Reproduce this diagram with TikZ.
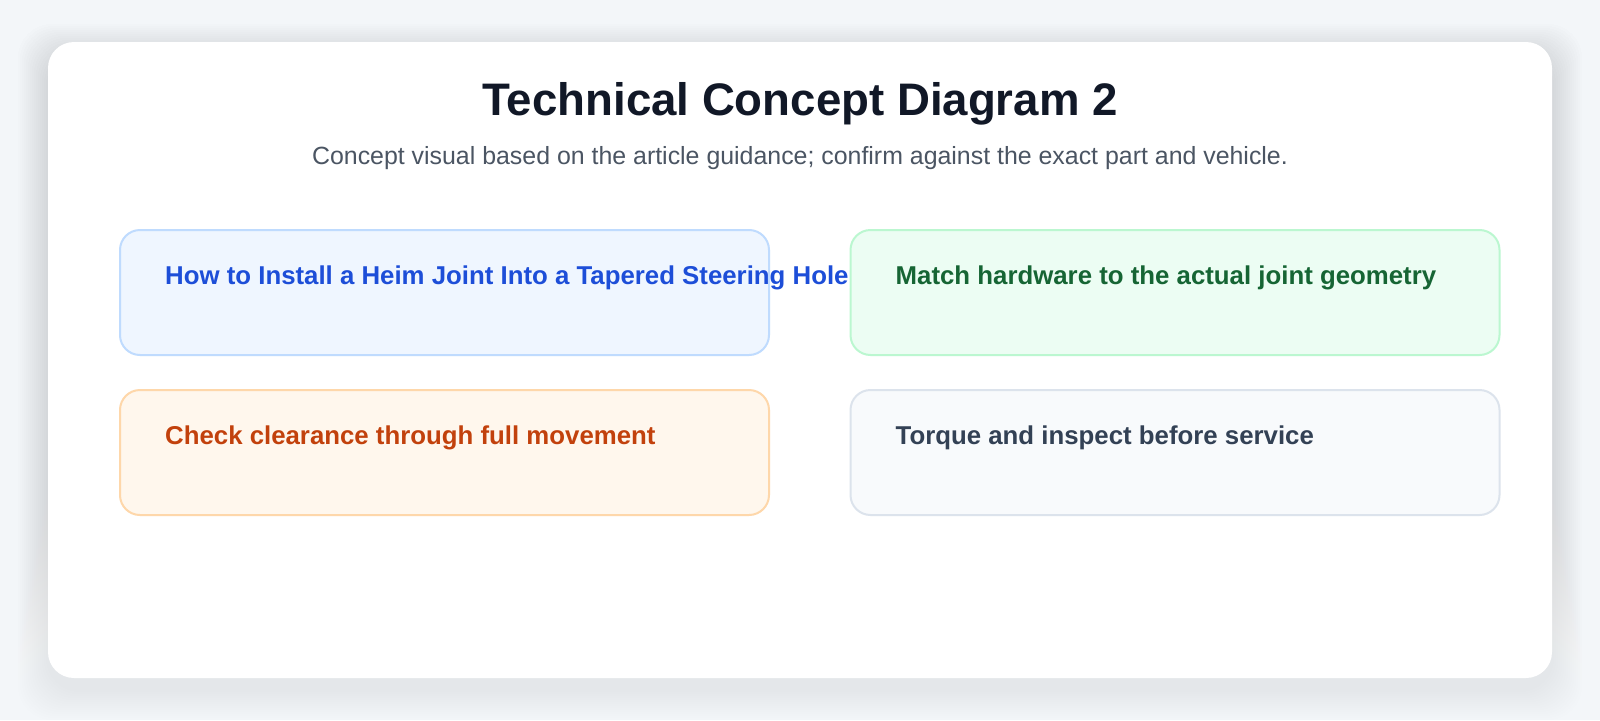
\documentclass[tikz,border=0pt]{standalone}
\usepackage{fontspec}
\setmainfont{Liberation Sans}
\usetikzlibrary{positioning}

\definecolor{pagebg}{HTML}{F3F6F9}
\definecolor{shade}{HTML}{64748B}
\definecolor{titlec}{HTML}{111827}
\definecolor{subc}{HTML}{4B5563}
\definecolor{fill1}{HTML}{EFF6FF}
\definecolor{line1}{HTML}{BFDBFE}
\definecolor{ink1}{HTML}{1D4ED8}
\definecolor{fill2}{HTML}{ECFDF3}
\definecolor{line2}{HTML}{BBF7D0}
\definecolor{ink2}{HTML}{166534}
\definecolor{fill3}{HTML}{FFF7ED}
\definecolor{line3}{HTML}{FED7AA}
\definecolor{ink3}{HTML}{C2410C}
\definecolor{fill4}{HTML}{F8FAFC}
\definecolor{line4}{HTML}{DCE3EC}
\definecolor{ink4}{HTML}{334155}

\tikzset{
  every box/.style={draw, line width=2pt, rounded corners=20pt,
    minimum width=649pt, minimum height=125pt, inner sep=0pt},
  box 1/.style={fill=fill1, draw=line1},
  box 2/.style={fill=fill2, draw=line2},
  box 3/.style={fill=fill3, draw=line3},
  box 4/.style={fill=fill4, draw=line4},
  box text/.style={anchor=base west, inner sep=0pt,
    font=\bfseries\fontsize{25.8}{31}\selectfont},
  text 1/.style={text=ink1},
  text 2/.style={text=ink2},
  text 3/.style={text=ink3},
  text 4/.style={text=ink4}
}

\begin{document}
\begin{tikzpicture}[x=1pt, y=-1pt]
  \fill [pagebg] (0,0) rectangle (1600,720);
  \useasboundingbox (0,0) rectangle (1600,720);

  % soft shadow under the card
  \foreach \s in {2,4,...,30}
    \fill [shade, opacity=0.005, rounded corners=34pt]
      (48-\s, 54-\s) rectangle (1552+\s, 690+\s);
  \node [fill=white, rounded corners=26pt, minimum width=1504pt,
    minimum height=636pt, inner sep=0pt](card) at (800,360) {};

  \node [anchor=base, text=titlec, font=\bfseries\fontsize{45.6}{55}\selectfont]
    (title) at (800,115) {Technical Concept Diagram 2};
  \node [anchor=base, text=subc, font=\fontsize{24.9}{30}\selectfont]
    (subtitle) at (800,164)
    {Concept visual based on the article guidance; confirm against the exact part and vehicle.};

  \foreach \m/\x/\y in {1/444.5/292.5, 2/1175/292.5, 3/444.5/452.5, 4/1175/452.5}
    \node [every box/.try, box \m/.try](box-\m) at (\x,\y) {};

  \foreach \m/\t in {1/How to Install a Heim Joint Into a Tapered Steering Hole,
                     2/Match hardware to the actual joint geometry,
                     3/Check clearance through full movement,
                     4/Torque and inspect before service}
    \node [box text, text \m/.try](label-\m)
      at ([xshift=46pt, yshift=-55pt]box-\m.north west) {\t};
\end{tikzpicture}
\end{document}
